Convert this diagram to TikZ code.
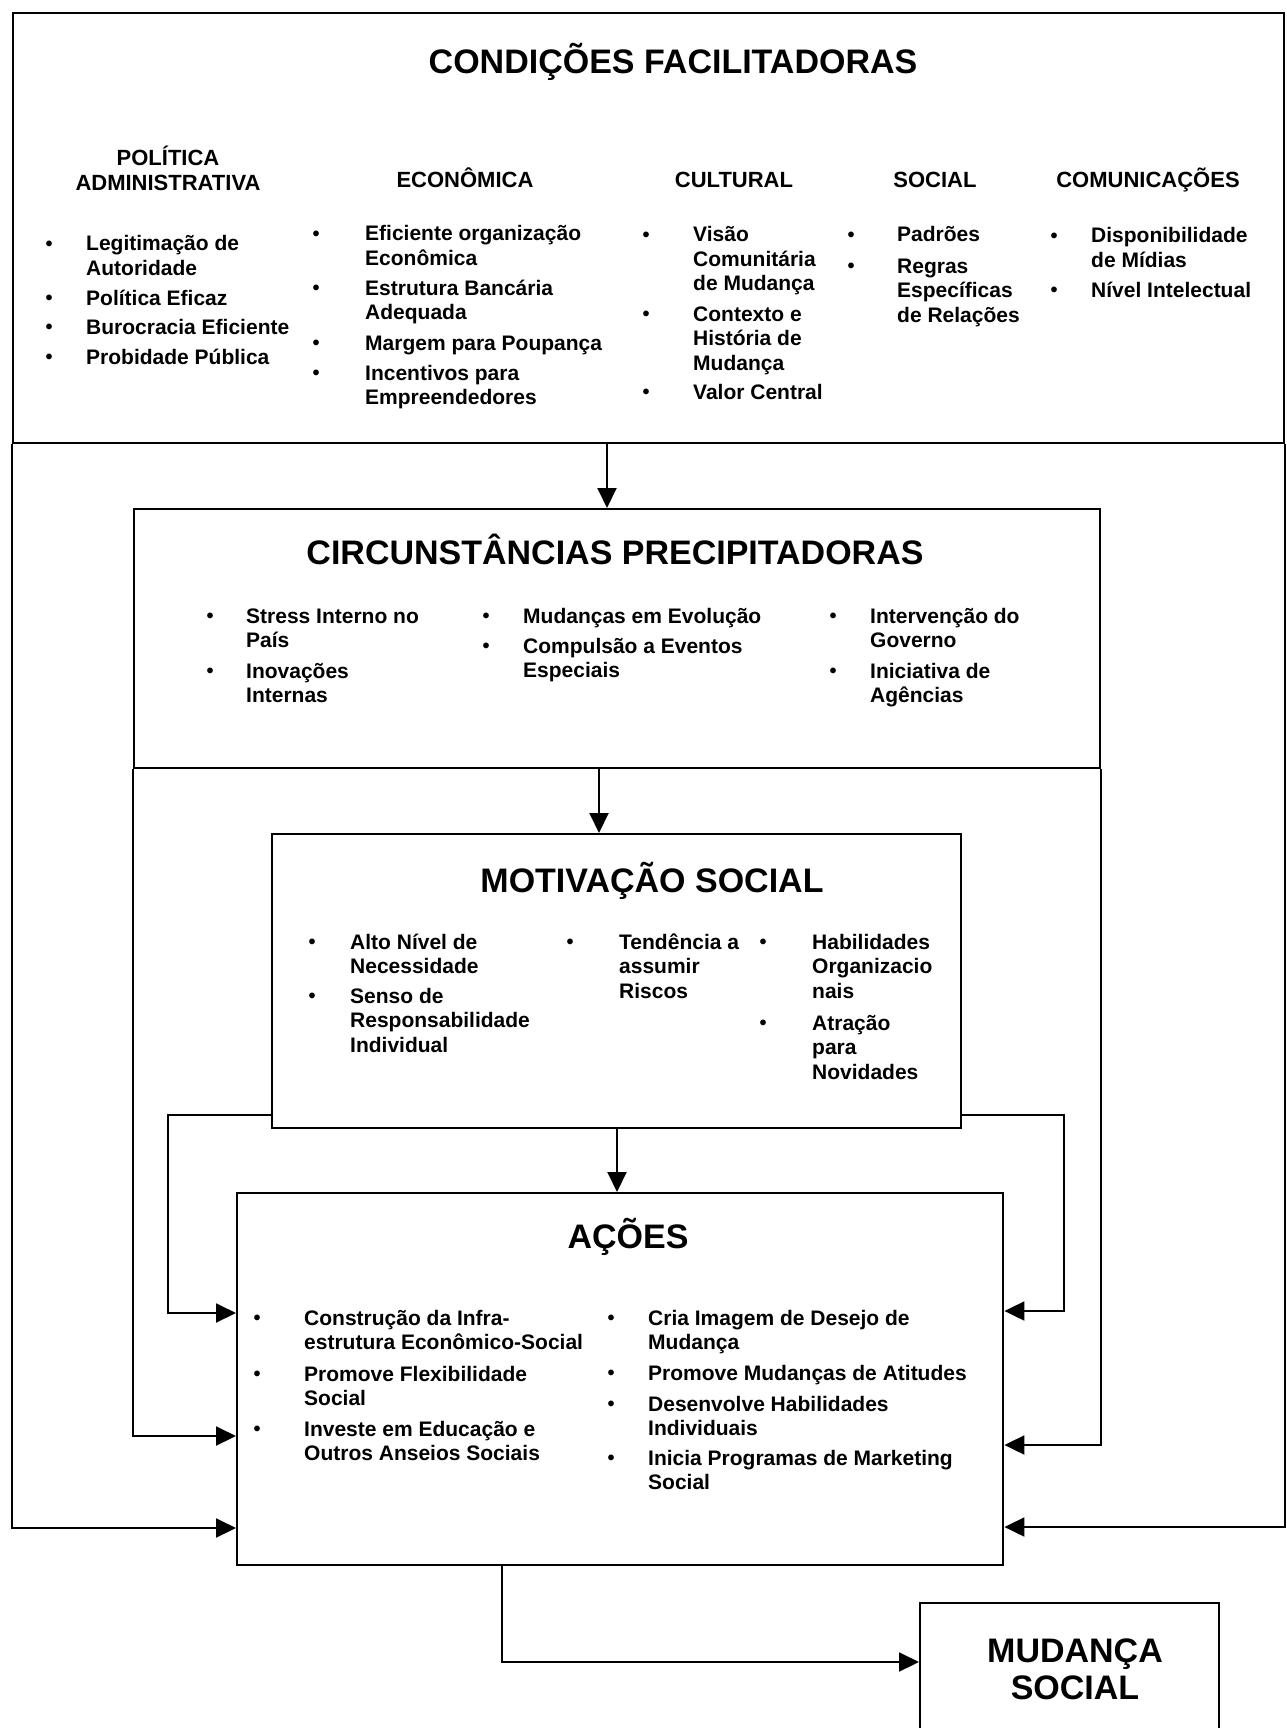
\documentclass[tikz,border=0pt]{standalone}
\usepackage{fontspec}
\setmainfont{Liberation Sans}
\usetikzlibrary{arrows.meta}

\tikzset{
  x=1pt, y=-1pt,
  box/.style={draw, line width=2.4pt, inner sep=0pt, anchor=north west},
  conn/.style={line width=2pt},
  arr/.style={conn, -{Triangle[length=20pt,width=19pt]}},
  bodytxt/.style={font=\fontsize{21}{24.5}\selectfont\bfseries, inner sep=0pt, anchor=base west},
  dot/.style={font=\fontsize{20}{24}\selectfont\bfseries, inner sep=0pt, anchor=base, yshift=0.8pt},
  head/.style={font=\fontsize{22}{25}\selectfont\bfseries, inner sep=0pt, anchor=base},
  title/.style={font=\fontsize{34}{37}\selectfont\bfseries, inner sep=0pt, anchor=base},
}

% left-aligned lines whose baseline is that of the first line
\newcommand\firstleft[1]{\begin{tabular}[t]{@{}l@{}}#1\end{tabular}}
% centred lines whose baseline is that of the first line
\newcommand\firstcentre[1]{\begin{tabular}[t]{@{}c@{}}#1\end{tabular}}

% bullet item: name, bullet x, text x, baseline y, text
\newcommand\bitem[5]{%
  \node[dot] (#1b) at (#2,#4) {\textbullet};
  \node[bodytxt] (#1) at (#3,#4) {\firstleft{#5}};}

\begin{document}
\begin{tikzpicture}
\fill[white] (0,0) rectangle (1286,1728);
\useasboundingbox (0,0) rectangle (1286,1728);

% ---------- boxes ----------
\node[box, minimum width=1271pt, minimum height=430pt] (cf) at (12,12) {};
\node[box, minimum width=966pt, minimum height=259pt] (circ) at (133,508) {};
\node[box, minimum width=689pt, minimum height=294pt] (motiv) at (271,833) {};
\node[box, minimum width=766pt, minimum height=372pt] (acoes) at (236,1192) {};
\node[box, minimum width=299pt, minimum height=200pt] (mud) at (919,1602) {};

% ---------- condições facilitadoras ----------
\node[title] (cft) at (673,74) {CONDIÇÕES FACILITADORAS};
\node[head] (hpol) at (168,166) {\firstcentre{POLÍTICA\\ADMINISTRATIVA}};
\node[head] (heco) at (465,188) {ECONÔMICA};
\node[head] (hcul) at (734,188) {CULTURAL};
\node[head] (hsoc) at (935,188) {SOCIAL};
\node[head] (hcom) at (1148,188) {COMUNICAÇÕES};

\bitem{pa1}{49}{86}{251}{Legitimação de\\Autoridade}
\bitem{pa2}{49}{86}{305}{Política Eficaz}
\bitem{pa3}{49}{86}{334}{Burocracia Eficiente}
\bitem{pa4}{49}{86}{364}{Probidade Pública}

\bitem{ec1}{316}{365}{241}{Eficiente organização\\Econômica}
\bitem{ec2}{316}{365}{295}{Estrutura Bancária\\Adequada}
\bitem{ec3}{316}{365}{350}{Margem para Poupança}
\bitem{ec4}{316}{365}{380}{Incentivos para\\Empreendedores}

\bitem{cu1}{646}{693}{242}{Visão\\Comunitária\\de Mudança}
\bitem{cu2}{646}{693}{321}{Contexto e\\História de\\Mudança}
\bitem{cu3}{646}{693}{399}{Valor Central}

\bitem{so1}{851}{897}{242}{Padrões}
\bitem{so2}{851}{897}{273}{Regras\\Específicas\\de Relações}

\bitem{co1}{1054}{1091}{243}{Disponibilidade\\de Mídias}
\bitem{co2}{1054}{1091}{297}{Nível Intelectual}

% ---------- circunstâncias precipitadoras ----------
\node[title] (circt) at (615,564) {CIRCUNSTÂNCIAS PRECIPITADORAS};
\bitem{ci1}{210}{246}{623}{Stress Interno no\\País}
\bitem{ci2}{210}{246}{678}{Inovações\\Internas}
\bitem{ci3}{486}{523}{623}{Mudanças em Evolução}
\bitem{ci4}{486}{523}{653}{Compulsão a Eventos\\Especiais}
\bitem{ci5}{833}{870}{623}{Intervenção do\\Governo}
\bitem{ci6}{833}{870}{678}{Iniciativa de\\Agências}

% ---------- motivação social ----------
\node[title] (motivt) at (652,892) {MOTIVAÇÃO SOCIAL};
\bitem{mo1}{312}{350}{949}{Alto Nível de\\Necessidade}
\bitem{mo2}{312}{350}{1003}{Senso de\\Responsabilidade\\Individual}
\bitem{mo3}{570}{619}{949}{Tendência a\\assumir\\Riscos}
\bitem{mo4}{763}{812}{949}{Habilidades\\Organizacio\\nais}
\bitem{mo5}{763}{812}{1030}{Atração\\para\\Novidades}

% ---------- ações ----------
\node[title] (acoest) at (628,1248) {AÇÕES};
\bitem{ac1}{257}{304}{1325}{Construção da Infra-\\estrutura Econômico-Social}
\bitem{ac2}{257}{304}{1381}{Promove Flexibilidade\\Social}
\bitem{ac3}{257}{304}{1436}{Investe em Educação e\\Outros Anseios Sociais}
\bitem{ac4}{611}{648}{1325}{Cria Imagem de Desejo de\\Mudança}
\bitem{ac5}{611}{648}{1380}{Promove Mudanças de Atitudes}
\bitem{ac6}{611}{648}{1411}{Desenvolve Habilidades\\Individuais}
\bitem{ac7}{611}{648}{1465}{Inicia Programas de Marketing\\Social}

% ---------- mudança social ----------
\node[title] (mudt) at (1075,1662) {\firstcentre{MUDANÇA\\SOCIAL}};

% ---------- connectors ----------
\coordinate (xa) at (607,0);
\coordinate (xb) at (599,0);
\coordinate (xc) at (617,0);
\coordinate (xd) at (502,0);
\draw[arr] (xa |- cf.south) -- (xa |- circ.north);
\draw[arr] (xb |- circ.south) -- (xb |- motiv.north);
\draw[arr] (xc |- motiv.south) -- (xc |- acoes.north);

% left side feedback into ações
\coordinate (yl1) at (0,1313);
\coordinate (yl2) at (0,1436);
\coordinate (yl3) at (0,1528);
\coordinate (ml) at (168,1115);
\draw[arr] (motiv.west |- ml) -- (ml) |- (acoes.west |- yl1);
\draw[arr] (circ.south west) |- (acoes.west |- yl2);
\draw[arr] (cf.south west) |- (acoes.west |- yl3);

% right side feedback into ações
\coordinate (yr1) at (0,1311);
\coordinate (yr2) at (0,1445);
\coordinate (yr3) at (0,1527);
\coordinate (mr) at (1064,1115);
\draw[arr] (motiv.east |- mr) -- (mr) |- (acoes.east |- yr1);
\draw[arr] (circ.south east) |- (acoes.east |- yr2);
\draw[arr] (cf.south east) |- (acoes.east |- yr3);

% ações to mudança social
\coordinate (yb) at (0,1662);
\draw[arr] (xd |- acoes.south) |- (mud.west |- yb);
\end{tikzpicture}
\end{document}
